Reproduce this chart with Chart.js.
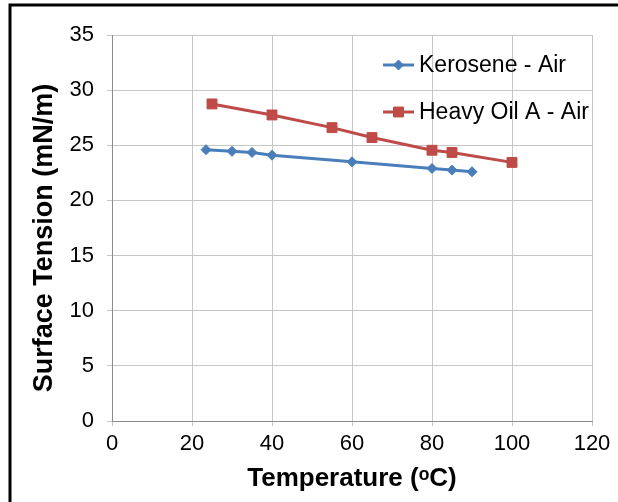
<!DOCTYPE html>
<html lang="en">
<head>
    <meta charset="UTF-8">
    <title>Surface Tension vs Temperature</title>
    <script src="https://cdn.jsdelivr.net/npm/chart.js"></script>
    <style>
        body {
            margin: 0;
            background: #fff;
        }
        #wrap {
            width: 618px;
            height: 502px;
        }
    </style>
</head>
<body>
    <div id="wrap">
        <canvas id="tensionChart" width="618" height="502"></canvas>
    </div>

    <script>
        // data
        const keroseneTemp = [23.5, 30, 35, 40, 60, 80, 85, 90];
        const keroseneTension = [24.6, 24.45, 24.35, 24.1, 23.5, 22.9, 22.75, 22.6];
        const heavyOilTemp = [25, 40, 55, 65, 80, 85, 100];
        const heavyOilTension = [28.75, 27.75, 26.6, 25.7, 24.55, 24.35, 23.45];
        const seriesNames = ['Kerosene - Air', 'Heavy Oil A - Air'];
        const xTicks = [0, 20, 40, 60, 80, 100, 120];
        const yTicks = [0, 5, 10, 15, 20, 25, 30, 35];
        const xTitle = 'Temperature (ᵒC)';
        const yTitle = 'Surface Tension (mN/m)';

        const BLUE = '#4a7ebb';
        const RED = '#be4b48';
        const FONT = '"Liberation Sans", Arial, sans-serif';

        const toPoints = (xs, ys) => xs.map((x, i) => ({ x: x, y: ys[i] }));

        // black frame on the left and top edges + white background
        const framePlugin = {
            id: 'frame',
            beforeDraw(chart) {
                const ctx = chart.ctx;
                ctx.save();
                ctx.fillStyle = '#fff';
                ctx.fillRect(0, 0, chart.width, chart.height);
                ctx.strokeStyle = '#000';
                ctx.lineWidth = 3;
                ctx.beginPath();
                ctx.moveTo(10, chart.height);
                ctx.lineTo(10, 5);
                ctx.lineTo(chart.width, 5);
                ctx.stroke();
                ctx.restore();
            }
        };

        // y title sits a bit below the plot centre in the original, so draw it here
        const yTitlePlugin = {
            id: 'yTitle',
            afterDraw(chart) {
                const ctx = chart.ctx;
                ctx.save();
                ctx.translate(45, 238);
                ctx.rotate(-Math.PI / 2);
                ctx.font = 'bold 27px ' + FONT;
                ctx.fillStyle = '#000';
                ctx.textAlign = 'center';
                ctx.textBaseline = 'middle';
                ctx.fillText(yTitle, 0, 0);
                ctx.restore();
            }
        };

        // legend sits inside the plot, no box, gridlines run under it
        const insideLegend = {
            id: 'insideLegend',
            afterDatasetsDraw(chart) {
                const ctx = chart.ctx;
                const rows = [65, 112];
                ctx.save();
                chart.data.datasets.forEach((ds, i) => {
                    const y = rows[i];
                    ctx.strokeStyle = ds.borderColor;
                    ctx.lineWidth = 3;
                    ctx.beginPath();
                    ctx.moveTo(383, y);
                    ctx.lineTo(414, y);
                    ctx.stroke();
                    ctx.fillStyle = ds.borderColor;
                    ctx.lineWidth = 1;
                    Chart.helpers.drawPoint(ctx, {
                        pointStyle: ds.pointStyle,
                        radius: ds.pointRadius,
                        borderWidth: 1
                    }, 398.5, y);
                    ctx.fillStyle = '#000';
                    ctx.font = '23px ' + FONT;
                    ctx.textBaseline = 'middle';
                    ctx.textAlign = 'left';
                    ctx.fillText(ds.label, 419, y + 1);
                });
                ctx.restore();
            }
        };

        const tickFont = { family: FONT, size: 22 };
        const titleFont = { family: FONT, size: 26, weight: 'bold' };

        new Chart(document.getElementById('tensionChart'), {
            type: 'scatter',
            data: {
                datasets: [
                    {
                        label: seriesNames[0],
                        data: toPoints(keroseneTemp, keroseneTension),
                        showLine: true,
                        borderColor: BLUE,
                        backgroundColor: BLUE,
                        borderWidth: 3,
                        pointStyle: 'rectRot',
                        pointRadius: 5,
                        pointBorderWidth: 1
                    },
                    {
                        label: seriesNames[1],
                        data: toPoints(heavyOilTemp, heavyOilTension),
                        showLine: true,
                        borderColor: RED,
                        backgroundColor: RED,
                        borderWidth: 3,
                        pointStyle: 'rect',
                        pointRadius: 7,
                        pointBorderWidth: 1
                    }
                ]
            },
            options: {
                responsive: false,
                animation: false,
                layout: {
                    padding: { left: 20, top: 35, right: 26, bottom: 8 }
                },
                plugins: {
                    legend: { display: false },
                    tooltip: { enabled: false }
                },
                scales: {
                    x: {
                        type: 'linear',
                        min: 0,
                        max: 120,
                        afterFit: (s) => { s.height = 73; },
                        afterBuildTicks: (s) => { s.ticks = xTicks.map(v => ({ value: v })); },
                        grid: { color: '#c6c6c6', tickLength: 5, lineWidth: 1 },
                        border: { color: '#8c8c8c', width: 1 },
                        ticks: { color: '#000', font: tickFont, padding: 5, maxRotation: 0 },
                        title: {
                            display: true,
                            text: xTitle,
                            color: '#000',
                            font: titleFont,
                            padding: { top: 0, bottom: 0 }
                        }
                    },
                    y: {
                        type: 'linear',
                        min: 0,
                        max: 35,
                        afterFit: (s) => { s.width = 92; },
                        afterBuildTicks: (s) => { s.ticks = yTicks.map(v => ({ value: v })); },
                        grid: { color: '#c6c6c6', tickLength: 5, lineWidth: 1 },
                        border: { color: '#8c8c8c', width: 1 },
                        ticks: { color: '#000', font: tickFont, padding: 13 },
                        title: { display: false }
                    }
                }
            },
            plugins: [framePlugin, insideLegend, yTitlePlugin]
        });
    </script>
</body>
</html>
